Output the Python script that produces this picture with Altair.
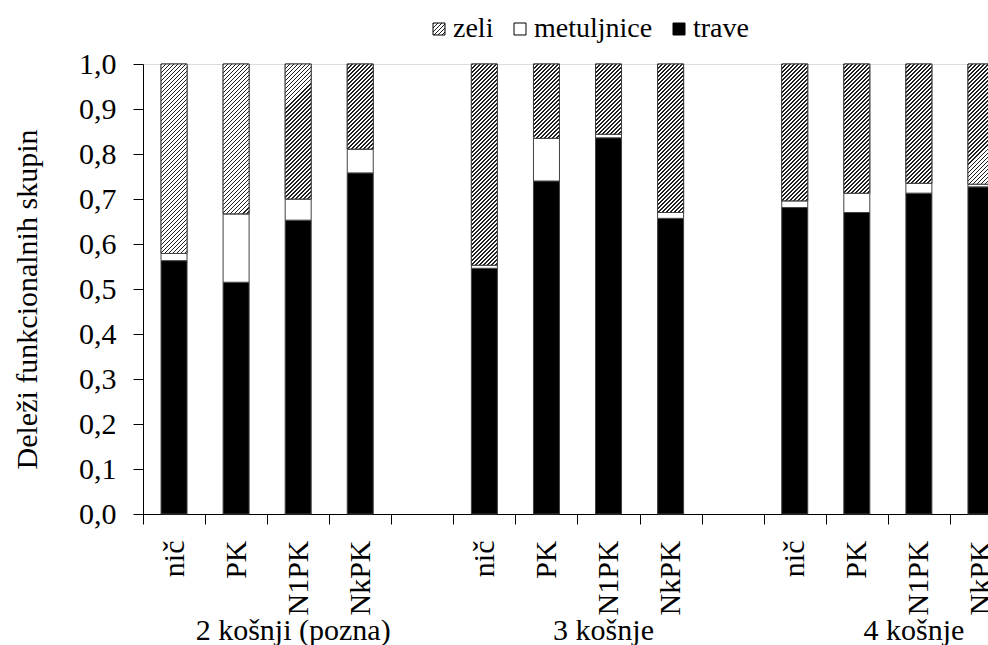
import math
import altair as alt
import pandas as pd

# ---------------- data ----------------
groups = ["2 košnji (pozna)", "3 košnje", "4 košnje"]
treatments = ["nič", "PK", "N1PK", "NkPK"]
series = ["zeli", "metuljnice", "trave"]

trave = [0.563, 0.515, 0.653, 0.758, 0.546, 0.740, 0.836, 0.657, 0.681, 0.670, 0.713, 0.727]
metuljnice = [0.016, 0.152, 0.047, 0.053, 0.007, 0.095, 0.008, 0.013, 0.015, 0.043, 0.022, 0.006]
zeli = [0.421, 0.333, 0.300, 0.189, 0.447, 0.165, 0.156, 0.330, 0.304, 0.287, 0.265, 0.267]

y_ticks = [0.0, 0.1, 0.2, 0.3, 0.4, 0.5, 0.6, 0.7, 0.8, 0.9, 1.0]

# ---------------- tables ----------------
# category keys: leading spaces keep the repeated treatment names distinct
# (SVG collapses them, so the labels show just the names)
keys = []
bar_keys = []
for gi, g in enumerate(groups):
    for t in treatments:
        k = " " * gi + t
        keys.append(k)
        bar_keys.append(k)
    if gi < len(groups) - 1:
        keys.append(" " * (gi + 1))

rows = []
for j, k in enumerate(bar_keys):
    a = trave[j]
    b = a + metuljnice[j]
    c = b + zeli[j]
    rows.append({"key": k, "series": "trave", "lo": 0.0, "hi": a})
    rows.append({"key": k, "series": "metuljnice", "lo": a, "hi": b})
    rows.append({"key": k, "series": "zeli", "lo": b, "hi": c})
df = pd.DataFrame(rows)
df_zeli = df[df["series"] == "zeli"].reset_index(drop=True)

df_groups = pd.DataFrame({"key": [" " * gi + "N1PK" for gi in range(len(groups))], "label": groups})

# ---------------- layout constants ----------------
FONT = "Liberation Serif"
PLOT_W = 845
PLOT_H = 450
STEP = 62.07
BAR_W = 26

# ---------------- hatch (striped gradient per bar) ----------------
PERIOD = 2.83
FRAC = 0.45
INK = "#1e1e1e"


def make_stops(n):
    out = []
    for i in range(n):
        a = i / n
        b = (i + FRAC) / n
        e = (i + 1) / n
        out += [
            {"offset": round(a, 5), "color": INK},
            {"offset": round(b, 5), "color": INK},
            {"offset": round(b, 5), "color": "#ffffff"},
            {"offset": round(e, 5), "color": "#ffffff"},
        ]
    return out


N_STRIPES = 70
stops = make_stops(N_STRIPES)
K = PERIOD * N_STRIPES * math.sqrt(2)

conds = []
for k, z in zip(bar_keys, zeli):
    h = z * PLOT_H
    d = BAR_W * BAR_W + h * h
    grad = {"gradient": "linear", "x1": 0, "y1": 0,
            "x2": round(K * BAR_W / d, 5), "y2": round(K * h / d, 5), "stops": stops}
    conds.append({"test": f"datum.key == '{k}'", "value": grad})

# legend swatch (12 px square) hatch as a Vega expression object
SW = 12
N_LEG = 8
K_LEG = PERIOD * N_LEG * math.sqrt(2)
leg_stops = ",".join(f"{{offset:{s['offset']},color:'{s['color']}'}}" for s in make_stops(N_LEG))
g_leg = K_LEG * SW / (2 * SW * SW)
legend_grad = f"{{gradient:'linear',x1:0,y1:0,x2:{g_leg:.4f},y2:{g_leg:.4f},stops:[{leg_stops}]}}"

# ---------------- chart ----------------
x_enc = alt.X(
    "key:N",
    sort=keys,
    scale=alt.Scale(domain=keys, range=[0, STEP * len(keys)], paddingInner=0, paddingOuter=0),
    axis=alt.Axis(
        title=None,
        labelAngle=270,
        labelAlign="right",
        labelBaseline="middle",
        labelPadding=16,
        labelFontSize=30,
        labelFont=FONT,
        labelColor="black",
        tickBand="extent",
        tickSize=10,
        tickColor="black",
        domainColor="black",
        grid=False,
        labelOverlap=False,
    ),
)

y_enc = alt.Y(
    "lo:Q",
    scale=alt.Scale(domain=[0, 1], nice=False),
    axis=alt.Axis(
        values=y_ticks,
        format=".1f",
        labelFontSize=30,
        labelFont=FONT,
        labelColor="black",
        labelPadding=17,
        tickSize=10,
        tickColor="black",
        domainColor="black",
        grid=False,
        title="Deleži funkcionalnih skupin",
        titleFont=FONT,
        titleFontSize=30,
        titleFontWeight="normal",
        titleColor="black",
        titleAngle=270,
        titleAlign="center",
        titleBaseline="middle",
        titleX=-116,
        titleY=235,
    ),
)

base = alt.Chart(df).mark_bar(width=BAR_W, stroke="#404040", strokeWidth=1).encode(
    x=x_enc,
    y=y_enc,
    y2="hi:Q",
    fill=alt.Fill(
        "series:N",
        scale=alt.Scale(domain=series, range=[{"expr": legend_grad}, "#ffffff", "#000000"]),
        legend=alt.Legend(
            orient="none",
            legendX=282,
            legendY=-49,
            direction="horizontal",
            title=None,
            symbolType="square",
            symbolSize=144,
            symbolStrokeColor="black",
            symbolStrokeWidth=1,
            labelFontSize=28,
            labelFont=FONT,
            labelColor="black",
            labelOffset=0,
            columnPadding=12,
        ),
    ),
)

hatch = alt.Chart(df_zeli).mark_bar(width=BAR_W, stroke="#404040", strokeWidth=1).encode(
    x=x_enc, y=y_enc, y2="hi:Q",
    fill={"condition": conds, "value": "#999999"},
)

group_text = alt.Chart(df_groups).mark_text(
    font=FONT, fontSize=30, color="black", align="center", baseline="alphabetic", dx=-5
).encode(x=x_enc, y=alt.value(576), text="label:N")

chart = (
    alt.layer(base, hatch, group_text)
    .properties(
        width=PLOT_W,
        height=PLOT_H,
        autosize=alt.AutoSizeParams(type="none"),
        padding={"left": 143, "top": 64, "right": 0, "bottom": 131},
        background="white",
    )
    .configure_view(strokeWidth=0)
    .configure_axis(labelFont=FONT, titleFont=FONT)
    .configure_legend(labelFont=FONT, titleFont=FONT)
    .configure_text(font=FONT)
    .configure(
        font=FONT,
        locale={"number": {"decimal": ",", "thousands": ".", "grouping": [3], "currency": ["", " €"]}},
    )
)

chart.save("out.html", embed_options={"renderer": "svg", "actions": False})
